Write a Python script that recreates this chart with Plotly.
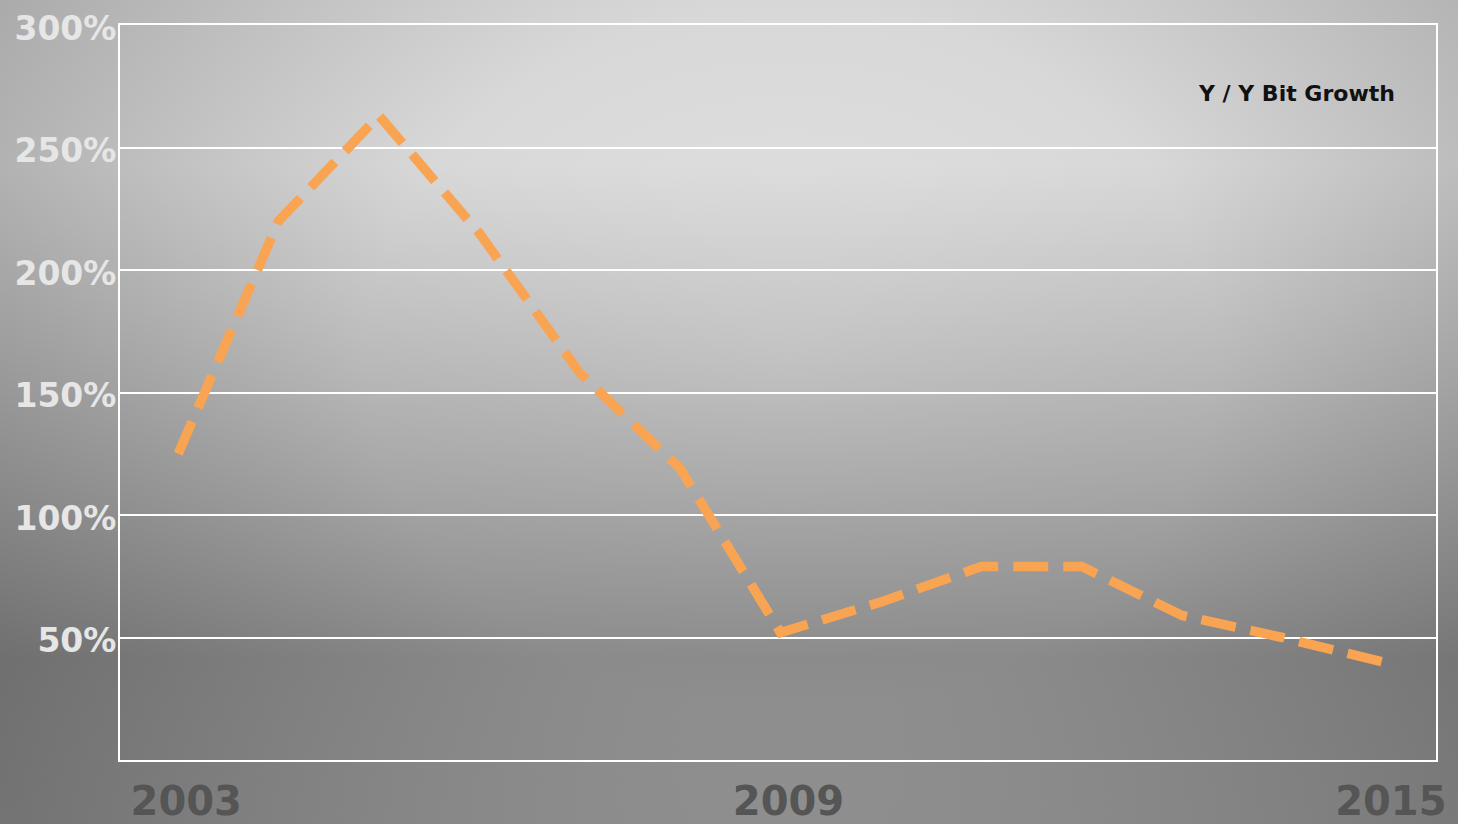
"""Y/Y bit growth, 2003-2015, dashed orange line on a grey radial backdrop."""

import base64

import plotly.graph_objects as go

# ---------------------------------------------------------------------------
# data
# ---------------------------------------------------------------------------

YEARS = [2003, 2004, 2005, 2006, 2007, 2008, 2009, 2010, 2011, 2012, 2013, 2014, 2015]
GROWTH = [125, 220, 263, 215, 158, 119, 52, 64.5, 79, 79, 59, 50, 40]

SERIES_NAME = "Y / Y Bit Growth"
X_TICKS = [2003, 2009, 2015]
Y_TICKS = [50, 100, 150, 200, 250, 300]
Y_TICK_TEXT = ["50%", "100%", "150%", "200%", "250%", "300%"]

W, H = 1458, 824
ML, MR, MT, MB = 120, 22, 25, 64
FONT = "DejaVu Sans"

# ---------------------------------------------------------------------------
# background: radial grey gradient with a darker lower band (svg image)
# ---------------------------------------------------------------------------

svg = f"""<svg xmlns='http://www.w3.org/2000/svg' width='{W}' height='{H}' preserveAspectRatio='none'>
<defs>
<radialGradient id='r' gradientUnits='userSpaceOnUse' cx='0' cy='0' r='1'
 gradientTransform='translate(790 360) scale(950 780)'>
<stop offset='0' stop-color='#e2e2e2'/>
<stop offset='0.45' stop-color='#d8d8d8'/>
<stop offset='1' stop-color='#a6a6a6'/>
</radialGradient>
<linearGradient id='l' x1='0' y1='0' x2='0' y2='1'>
<stop offset='0' stop-color='#000' stop-opacity='0'/>
<stop offset='0.2' stop-color='#000' stop-opacity='0'/>
<stop offset='0.8' stop-color='#000' stop-opacity='0.36'/>
<stop offset='1' stop-color='#000' stop-opacity='0.3'/>
</linearGradient>
</defs>
<rect width='{W}' height='{H}' fill='url(#r)'/>
<rect width='{W}' height='{H}' fill='url(#l)'/>
</svg>"""
bg_src = "data:image/svg+xml;base64," + base64.b64encode(svg.encode()).decode()

pw, ph = W - ML - MR, H - MT - MB

fig = go.Figure()

fig.add_trace(go.Scatter(
    x=YEARS,
    y=GROWTH,
    mode="lines",
    name=SERIES_NAME,
    line=dict(color="#f9a453", width=9.5, dash="35px,15px"),
    showlegend=False,
    hoverinfo="skip",
))

fig.add_annotation(
    text=SERIES_NAME,
    xref="paper", yref="paper",
    x=(1397 - ML) / pw, y=(H - MB - 93) / ph,
    xanchor="right", yanchor="middle",
    showarrow=False,
    font=dict(family=FONT, size=22, color="#111111", weight="bold"),
)

fig.add_layout_image(
    source=bg_src,
    xref="paper", yref="paper",
    x=-ML / pw, y=1 + MT / ph,
    sizex=W / pw, sizey=H / ph,
    xanchor="left", yanchor="top",
    sizing="stretch",
    layer="below",
)

fig.update_xaxes(
    range=[2002.42, 2015.53],
    tickvals=X_TICKS,
    ticktext=[str(t) for t in X_TICKS],
    showgrid=False,
    zeroline=False,
    showline=True, linecolor="white", linewidth=2, mirror=True,
    ticks="", ticklabelstandoff=5, ticklabelshift=8,
    automargin=False,
    tickfont=dict(family=FONT, size=40, color="#555555", weight="bold"),
)

fig.update_yaxes(
    range=[0, 300],
    tickvals=Y_TICKS,
    ticktext=Y_TICK_TEXT,
    showgrid=True, gridcolor="white", gridwidth=2,
    zeroline=False,
    showline=True, linecolor="white", linewidth=2, mirror=True,
    ticks="", ticklabelstandoff=-5, ticklabelshift=3,
    automargin=False,
    tickfont=dict(family=FONT, size=33, color="#e6e6e6", weight="bold"),
)

fig.update_layout(
    width=W, height=H,
    margin=dict(l=ML, r=MR, t=MT, b=MB),
    paper_bgcolor="#a0a0a0",
    plot_bgcolor="rgba(0,0,0,0)",
)

fig.write_html(
    "out.html",
    config={"displayModeBar": False},
    post_script="document.body.style.margin='0';document.body.style.overflow='hidden';",
)
